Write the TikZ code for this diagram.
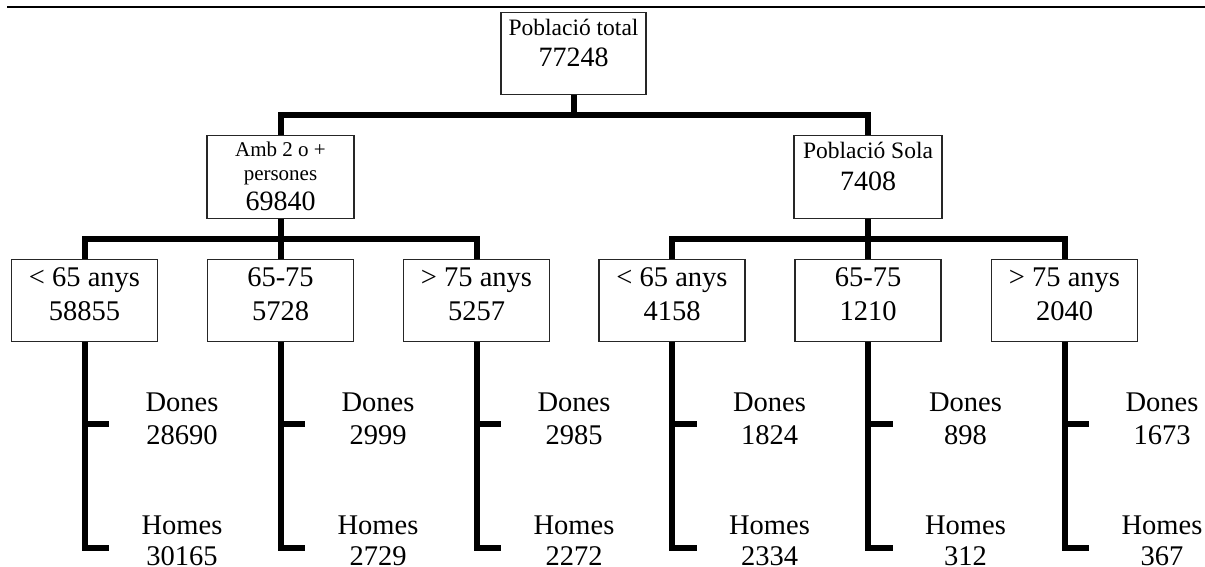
\documentclass[tikz,border=0pt]{standalone}
\usepackage{fontspec}
\setmainfont{Liberation Serif}
\usetikzlibrary{calc}
\begin{document}
\begin{tikzpicture}[x=1pt,y=-1pt,
 box/.style={draw=black!85,line width=1.2pt,fill=white,inner sep=0pt,minimum width=146pt,minimum height=82pt,anchor=north},
 conn/.style={line width=6pt,line join=miter},
 big/.style={font=\fontsize{28.5}{34}\selectfont,anchor=base,inner sep=0pt},
 num/.style={font=\fontsize{28}{34}\selectfont,anchor=base,inner sep=0pt},
 mid/.style={font=\fontsize{23.5}{28}\selectfont,anchor=base,inner sep=0pt},
 sm/.style={font=\fontsize{21}{25}\selectfont,anchor=base,inner sep=0pt}]
\useasboundingbox (0,0) rectangle (1205,567);
\coordinate (ruleL) at (7,7);
\coordinate (ruleR) at (1205,7);
\draw[line width=2.4pt] (ruleL) -- (ruleR);

% boxes
\node[box,minimum width=145pt] (root) at (573.5,12) {};
\node[box,minimum width=147pt,minimum height=83pt] (amb) at (280.5,135) {};
\node[box,minimum width=148pt,minimum height=83pt] (sola) at (868,135) {};
\node[box] (a1) at (84.5,259) {};
\node[box] (a2) at (280.5,259) {};
\node[box] (a3) at (476.5,259) {};
\node[box] (b1) at (672,259) {};
\node[box] (b2) at (868,259) {};
\node[box] (b3) at (1064.5,259) {};

% box texts
\node[mid] (rootT) at ($(root.north)+(0,24)$) {Població total};
\node[num] (rootN) at ($(root.north)+(0,54.7)$) {77248};
\node[sm] (ambT1) at ($(amb.north)+(0,22)$) {Amb 2 o +};
\node[sm] (ambT2) at ($(amb.north)+(0,46)$) {persones};
\node[num] (ambN) at ($(amb.north)+(0,76)$) {69840};
\node[mid] (solaT) at ($(sola.north)+(0,23.3)$) {Població Sola};
\node[num] (solaN) at ($(sola.north)+(0,55.7)$) {7408};

\foreach \b/\t/\n in {a1/{< 65 anys}/58855, a2/65-75/5728, a3/{> 75 anys}/5257,
                      b1/{< 65 anys}/4158, b2/65-75/1210, b3/{> 75 anys}/2040}{
  \node[big] (\b T) at ($(\b.north)+(0,27)$) {\t};
  \node[big] (\b N) at ($(\b.north)+(0,61.7)$) {\n};
}

% connectors
\coordinate (j1) at (573.5,115.5);
\draw[conn] (root.south) -- (j1);
\draw[conn] (amb.north) |- (j1) -| (sola.north);
\coordinate (j2) at (280.5,239);
\coordinate (j3) at (868,239);
\draw[conn] (amb.south) -- (a2.north);
\draw[conn] (a1.north) |- (j2) -| (a3.north);
\draw[conn] (sola.south) -- (b2.north);
\draw[conn] (b1.north) |- (j3) -| (b3.north);

% level 3
\foreach \b/\d/\h in {a1/28690/30165, a2/2999/2729, a3/2985/2272,
                      b1/1824/2334, b2/898/312, b3/1673/367}{
  \coordinate (\b d) at ($(\b.south)+(24.5,82)$);
  \coordinate (\b h) at ($(\b.south)+(24.5,206)$);
  \draw[conn] (\b.south) |- (\b h);
  \draw[conn] (\b.south |- \b d) -- (\b d);
  \node[big] (\b DT) at ($(\b.south)+(97.5,69)$) {Dones};
  \node[big] (\b DN) at ($(\b.south)+(97.5,102)$) {\d};
  \node[big] (\b HT) at ($(\b.south)+(97.5,192)$) {Homes};
  \node[big] (\b HN) at ($(\b.south)+(97.5,223.5)$) {\h};
}
\end{tikzpicture}
\end{document}
